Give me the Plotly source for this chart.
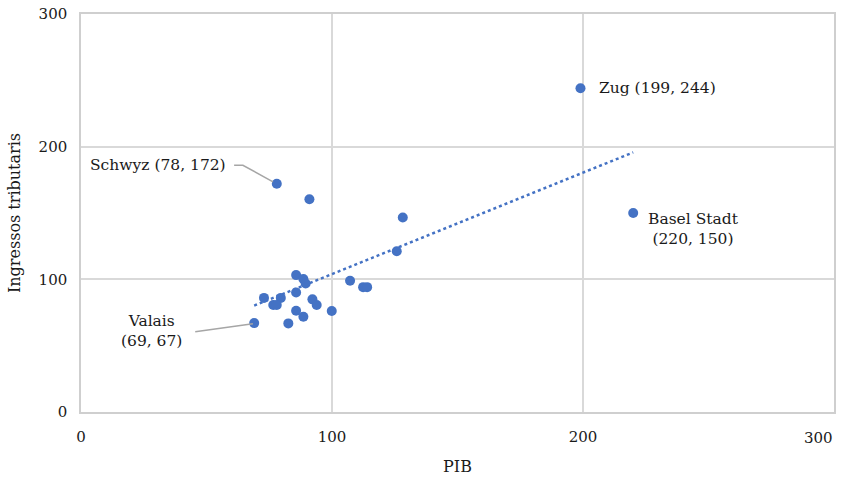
import numpy as np
import plotly.graph_objects as go

# GDP index (PIB) and tax revenue index (Ingressos tributaris) per canton
pib = [85.7, 88.6, 89.5, 72.9, 79.6, 76.6, 78.0, 85.7, 92.2, 93.9, 99.9, 85.7,
       88.6, 82.6, 69, 107.2, 112.4, 114.0, 91.0, 128.2, 125.8, 78, 199, 220]
ingressos = [103.2, 100.2, 96.9, 86.0, 86.0, 80.6, 80.6, 90.1, 84.9, 80.6, 76.1, 76.3,
             71.8, 66.8, 67, 98.9, 94.1, 94.1, 160.4, 146.6, 121.2, 172, 244, 150]

x_ticks = [0, 100, 200, 300]
y_ticks = [0, 100, 200, 300]

FONT = "DejaVu Serif"
BLUE = "#4472C4"
GRID = "#d9d9d9"
AXIS = "#cfcfcf"
LEADER = "#a6a6a6"

# Linear trendline over the data range
slope, intercept = np.polyfit(pib, ingressos, 1)
tx = np.array([min(pib), max(pib)])
ty = intercept + slope * tx

fig = go.Figure()
fig.add_trace(go.Scatter(
    x=tx, y=ty, mode="lines",
    line=dict(color=BLUE, width=2.5, dash="dot"),
    hoverinfo="skip", showlegend=False,
))
fig.add_trace(go.Scatter(
    x=pib, y=ingressos, mode="markers",
    marker=dict(color=BLUE, size=10),
    showlegend=False,
))

# Leader lines for labelled cantons
fig.add_trace(go.Scatter(
    x=[61, 64.5, 76.5], y=[186, 186, 173.5], mode="lines",
    line=dict(color=LEADER, width=1.5), hoverinfo="skip", showlegend=False,
))
fig.add_trace(go.Scatter(
    x=[45.5, 68.5], y=[60.5, 66.5], mode="lines",
    line=dict(color=LEADER, width=1.5), hoverinfo="skip", showlegend=False,
))

label_font = dict(family=FONT, size=15.5, color="#1a1a1a")
fig.add_annotation(x=58.5, y=186, text="Schwyz (78, 172)", showarrow=False,
                   xanchor="right", yanchor="middle", font=label_font)
fig.add_annotation(x=28, y=61, text="Valais<br>(69, 67)", showarrow=False,
                   xanchor="center", yanchor="middle", align="center", font=label_font)
fig.add_annotation(x=205.5, y=244, text="Zug (199, 244)", showarrow=False,
                   xanchor="left", yanchor="middle", font=label_font)
fig.add_annotation(x=244, y=138, text="Basel Stadt<br>(220, 150)", showarrow=False,
                   xanchor="center", yanchor="middle", align="center", font=label_font)

# The last x label is right-aligned to its gridline so it stays inside the page
x_labels = [str(v) for v in x_ticks[:-1]] + [""]
fig.add_annotation(x=x_ticks[-1], y=0, xref="x", yref="paper",
                   text=str(x_ticks[-1]), showarrow=False,
                   xanchor="right", yanchor="top", xshift=1, yshift=-15,
                   font=dict(family=FONT, size=15, color="#1a1a1a"))

fig.update_layout(
    width=846, height=478,
    margin=dict(l=81, r=12, t=14, b=66),
    paper_bgcolor="white", plot_bgcolor="white",
    font=dict(family=FONT, size=15, color="#1a1a1a"),
    xaxis=dict(
        range=[0, 300], tickvals=x_ticks, ticktext=x_labels,
        showgrid=True, gridcolor=GRID, gridwidth=1.5,
        zeroline=False, showline=True, linecolor=AXIS, linewidth=1.5,
        mirror=True, ticks="", ticklabelstandoff=10, automargin=False,
        ticklabeloverflow="allow",
        title=dict(text="PIB", font=dict(family=FONT, size=16), standoff=16),
    ),
    yaxis=dict(
        range=[0, 300], tickvals=y_ticks, ticktext=[str(v) for v in y_ticks],
        showgrid=True, gridcolor=GRID, gridwidth=1.5,
        zeroline=False, showline=True, linecolor=AXIS, linewidth=1.5,
        mirror=True, ticks="", ticklabelstandoff=9, automargin=False,
        ticklabeloverflow="allow",
        title=dict(text="Ingressos tributaris", font=dict(family=FONT, size=16), standoff=14),
    ),
)

fig.write_html("out.html")
